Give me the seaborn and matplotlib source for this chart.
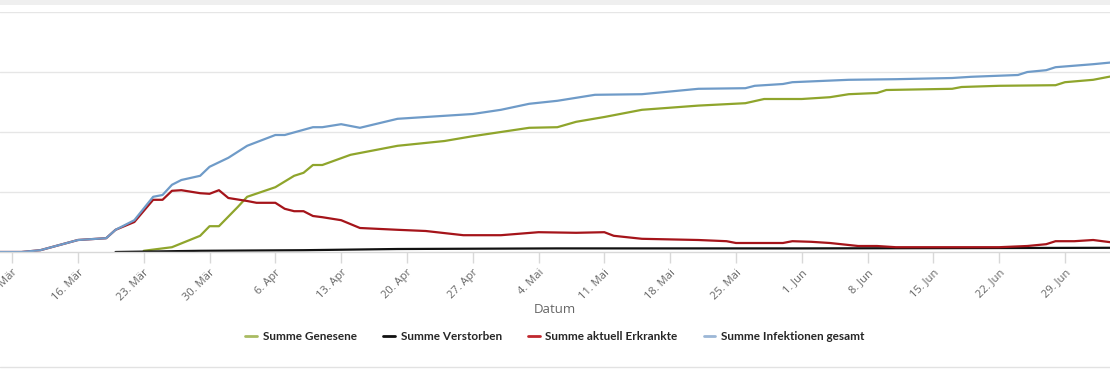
import pandas as pd
import matplotlib
matplotlib.use("Agg")
import matplotlib.pyplot as plt
from matplotlib.lines import Line2D
import seaborn as sns

# values (y axis labels are cut off, one grid step = 100)
infekt_dates = ["2020-03-07", "2020-03-10", "2020-03-12", "2020-03-16", "2020-03-18", "2020-03-19",
                "2020-03-20", "2020-03-22", "2020-03-24", "2020-03-25", "2020-03-26", "2020-03-27",
                "2020-03-29", "2020-03-30", "2020-04-01", "2020-04-03", "2020-04-06", "2020-04-07",
                "2020-04-10", "2020-04-11", "2020-04-13", "2020-04-15", "2020-04-19", "2020-04-24",
                "2020-04-27", "2020-04-30", "2020-05-03", "2020-05-06", "2020-05-08", "2020-05-10",
                "2020-05-15", "2020-05-21", "2020-05-26", "2020-05-27", "2020-05-30", "2020-05-31",
                "2020-06-06", "2020-06-11", "2020-06-17", "2020-06-19", "2020-06-24", "2020-06-25",
                "2020-06-27", "2020-06-28", "2020-07-02", "2020-07-04"]
infekt_vals = [0, 0, 3, 20, 22, 23,
               37, 53, 92, 95, 112, 120,
               127, 142, 157, 177, 195, 195,
               208, 208, 213, 207, 222, 227,
               230, 237, 247, 252, 257, 262,
               263, 272, 273, 277, 280, 283,
               287, 288, 290, 292, 295, 300,
               303, 308, 313, 316]

genesen_dates = ["2020-03-23", "2020-03-26", "2020-03-29", "2020-03-30", "2020-03-31", "2020-04-02",
                 "2020-04-03", "2020-04-06", "2020-04-08", "2020-04-09", "2020-04-10", "2020-04-11",
                 "2020-04-14", "2020-04-15", "2020-04-19", "2020-04-24", "2020-04-27", "2020-04-30",
                 "2020-05-03", "2020-05-06", "2020-05-08", "2020-05-11", "2020-05-15", "2020-05-21",
                 "2020-05-26", "2020-05-28", "2020-06-01", "2020-06-04", "2020-06-06", "2020-06-09",
                 "2020-06-10", "2020-06-17", "2020-06-18", "2020-06-22", "2020-06-28", "2020-06-29",
                 "2020-07-02", "2020-07-04"]
genesen_vals = [2, 8, 27, 43, 43, 75,
                92, 108, 127, 132, 145, 145,
                162, 165, 177, 185, 193, 200,
                207, 208, 217, 225, 237, 244,
                248, 255, 255, 258, 263, 265,
                270, 272, 275, 277, 278, 283,
                287, 293]

erkrankt_dates = ["2020-03-07", "2020-03-10", "2020-03-12", "2020-03-16", "2020-03-18", "2020-03-19",
                  "2020-03-20", "2020-03-22", "2020-03-24", "2020-03-25", "2020-03-26", "2020-03-27",
                  "2020-03-29", "2020-03-30", "2020-03-31", "2020-04-01", "2020-04-03", "2020-04-04",
                  "2020-04-06", "2020-04-07", "2020-04-08", "2020-04-09", "2020-04-10", "2020-04-11",
                  "2020-04-13", "2020-04-15", "2020-04-19", "2020-04-22", "2020-04-26", "2020-04-30",
                  "2020-05-04", "2020-05-08", "2020-05-11", "2020-05-12", "2020-05-15", "2020-05-21",
                  "2020-05-24", "2020-05-25", "2020-05-30", "2020-05-31", "2020-06-02", "2020-06-04",
                  "2020-06-07", "2020-06-09", "2020-06-11", "2020-06-22", "2020-06-25", "2020-06-27",
                  "2020-06-28", "2020-06-30", "2020-07-02", "2020-07-04"]
erkrankt_vals = [0, 0, 3, 20, 22, 23,
                 37, 50, 87, 87, 102, 103,
                 98, 97, 103, 90, 85, 82,
                 82, 72, 68, 68, 60, 58,
                 53, 40, 37, 35, 28, 28,
                 33, 32, 33, 27, 22, 20,
                 18, 15, 15, 18, 17, 15,
                 10, 10, 8, 8, 10, 13,
                 18, 18, 20, 16]

verstorben_dates = ["2020-03-20", "2020-03-29", "2020-04-09", "2020-04-19", "2020-05-06", "2020-06-01",
                    "2020-07-04"]
verstorben_vals = [0, 2, 3, 5, 6, 6, 7]

series_names = ["Summe Genesene", "Summe Verstorben", "Summe aktuell Erkrankte", "Summe Infektionen gesamt"]
series_colors = ["#8fa52c", "#111111", "#a5141a", "#6f9bc8"]
legend_colors = ["#a9bb62", "#111111", "#c0282e", "#9cb7d6"]

tick_dates = ["2020-03-09", "2020-03-16", "2020-03-23", "2020-03-30", "2020-04-06", "2020-04-13",
              "2020-04-20", "2020-04-27", "2020-05-04", "2020-05-11", "2020-05-18", "2020-05-25",
              "2020-06-01", "2020-06-08", "2020-06-15", "2020-06-22", "2020-06-29"]
tick_labels = ["9. Mär", "16. Mär", "23. Mär", "30. Mär", "6. Apr", "13. Apr",
               "20. Apr", "27. Apr", "4. Mai", "11. Mai", "18. Mai", "25. Mai",
               "1. Jun", "8. Jun", "15. Jun", "22. Jun", "29. Jun"]

frames = []
for name, d, v in [(series_names[0], genesen_dates, genesen_vals),
                   (series_names[1], verstorben_dates, verstorben_vals),
                   (series_names[2], erkrankt_dates, erkrankt_vals),
                   (series_names[3], infekt_dates, infekt_vals)]:
    frames.append(pd.DataFrame({"Datum": pd.to_datetime(d), "Wert": v, "Reihe": name}))
df = pd.concat(frames, ignore_index=True)

sns.set_style("white")
plt.rcParams['font.family'] = ['Open Sans', 'DejaVu Sans']

fig = plt.figure(figsize=(11.1, 3.7), dpi=100)
ax = fig.add_axes([0.0, 1 - 252 / 370, 1.0, 240 / 370])

sns.lineplot(data=df, x="Datum", y="Wert", hue="Reihe", hue_order=series_names,
             palette=dict(zip(series_names, series_colors)), linewidth=1.6, ax=ax, legend=False,
             estimator=None, sort=True)

ax.set_xlim(pd.Timestamp("2020-03-07 17:00"), pd.Timestamp("2020-07-03 19:00"))
ax.set_ylim(0, 400)
ax.set_yticks([100, 200, 300, 400])
ax.yaxis.grid(True, color="#e6e6e6", linewidth=1)
ax.set_yticklabels([])
ax.tick_params(axis="y", length=0)
for s in ["top", "right", "left"]:
    ax.spines[s].set_visible(False)
ax.spines["bottom"].set_color("#d8d8d8")
ax.spines["bottom"].set_linewidth(1)

ax.set_xticks(pd.to_datetime(tick_dates))
ax.set_xticklabels(tick_labels, rotation=45, ha="right", rotation_mode="anchor",
                   fontsize=8, color="#666666")
ax.tick_params(axis="x", length=8, width=1, color="#d8d8d8", pad=3, bottom=True)
ax.set_xlabel("Datum", fontsize=9.5, color="#666666", labelpad=0)
ax.set_ylabel("")

handles = [Line2D([0], [0], color=c, linewidth=2) for c in legend_colors]
fig.legend(handles, series_names, loc="center", bbox_to_anchor=(0.5, 1 - 337 / 370),
           ncol=4, frameon=False, handlelength=1.0, handletextpad=0.5, columnspacing=2.2,
           prop={"family": "Lato", "weight": "bold", "size": 8.5})

# page decorations above and below the chart
fig.add_artist(plt.Rectangle((0, 1 - 5 / 370), 1, 5 / 370, transform=fig.transFigure,
                             color="#efefef", lw=0))
fig.add_artist(Line2D([0, 1], [1 - 367 / 370] * 2, transform=fig.transFigure, color="#e2e2e2", lw=1))

fig.savefig("out.png", dpi=100)
